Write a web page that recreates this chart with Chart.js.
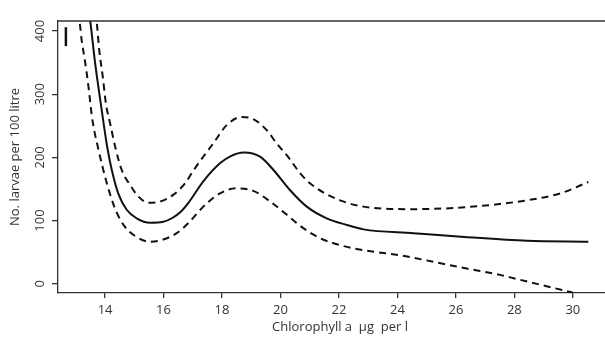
<!DOCTYPE html>
<html>
<head>
<meta charset="utf-8">
<script src="https://cdn.jsdelivr.net/npm/chart.js@4.4.1/dist/chart.umd.min.js"></script>
<style>
  html, body { margin: 0; padding: 0; background: #fff; }
  #wrap { width: 605px; height: 340px; }
</style>
</head>
<body>
<div id="wrap"><canvas id="larvae"></canvas></div>
<script>
// fitted curve (solid)
const fitX = [13.45, 13.49, 13.66, 13.86, 14.06, 14.23, 14.45, 14.74, 15.08, 15.54, 15.99, 16.3, 16.57, 16.85, 17.36, 17.93, 18.3, 18.75, 19.3, 19.76, 20.33, 20.9, 21.58, 22.27, 22.84, 24.55, 26.3, 28.43, 30.53];
const fitY = [430, 417, 349, 283, 220, 180, 143, 117, 103.5, 96.5, 98, 104, 113, 128, 162, 190.5, 202, 207.5, 201, 180, 148, 122, 103.5, 93, 86, 80, 74, 68, 66.5];

// upper band (dashed)
const upperX = [13.68, 13.72, 13.8, 13.92, 14.03, 14.19, 14.34, 14.57, 14.86, 15.14, 15.48, 15.88, 16.34, 16.74, 17.02, 17.36, 17.7, 18.16, 18.68, 19.13, 19.53, 19.87, 20.22, 20.78, 21.24, 22.04, 22.84, 24.55, 26.3, 28.43, 29.57, 30.53];
const upperY = [430, 412, 370, 328, 285, 250, 218, 180, 156, 138, 128, 130, 141, 159, 179, 201, 222, 251, 264, 259, 243, 222, 203, 169, 151, 132, 122, 118, 121, 132, 143, 161];

// lower band (dashed)
const lowerX = [13.08, 13.145, 13.2, 13.29, 13.37, 13.45, 13.54, 13.64, 13.74, 13.83, 14.06, 14.34, 14.68, 15.08, 15.54, 15.99, 16.45, 16.85, 17.36, 17.93, 18.5, 19.07, 19.65, 20.22, 20.78, 21.36, 22.04, 22.84, 24.09, 24.55, 26.37, 27.51, 27.86, 29.91, 30.0];
const lowerY = [430, 409, 385, 359, 334, 305, 268, 240, 219, 201, 159, 119, 90, 74, 66.5, 70, 80, 96, 122, 143, 151, 147, 130, 109, 88, 72, 61, 53, 45, 41, 24, 14, 10, -13, -14];

// small bar in the top left corner
const markX = [12.66, 12.66];
const markY = [376, 406];

const xTicks = [14, 16, 18, 20, 22, 24, 26, 28, 30];
const yTicks = [0, 100, 200, 300, 400];

const xTitle = 'Chlorophyll a  \u00b5g  per l';
const yTitle = 'No. larvae per 100 litre';

const ink = '#111';
const axisInk = '#333';

const toPoints = (xs, ys) => xs.map((x, i) => ({ x: x, y: ys[i] }));

// tick labels, titles and the top frame line
const axisText = {
  id: 'axisText',
  afterDraw(chart) {
    const { ctx, chartArea, scales } = chart;
    ctx.save();
    ctx.strokeStyle = axisInk;
    ctx.lineWidth = 1.3;
    ctx.beginPath();
    ctx.moveTo(chartArea.left, chartArea.top);
    ctx.lineTo(chartArea.right, chartArea.top);
    ctx.stroke();

    ctx.fillStyle = '#333';
    ctx.font = '13px "Open Sans"';
    ctx.textAlign = 'center';
    ctx.textBaseline = 'middle';
    xTicks.forEach(v => {
      ctx.fillText(String(v), scales.x.getPixelForValue(v), chartArea.bottom + 17);
    });
    yTicks.forEach(v => {
      ctx.save();
      ctx.translate(chartArea.left - 18, scales.y.getPixelForValue(v));
      ctx.rotate(-Math.PI / 2);
      ctx.fillText(String(v), 0, 0);
      ctx.restore();
    });

    ctx.fillText(xTitle, 340, chartArea.bottom + 34);
    ctx.save();
    ctx.translate(15, (chartArea.top + chartArea.bottom) / 2);
    ctx.rotate(-Math.PI / 2);
    ctx.fillText(yTitle, 0, 0);
    ctx.restore();
    ctx.restore();
  }
};

const lineSet = (xs, ys, dashed) => ({
  data: toPoints(xs, ys),
  showLine: true,
  borderColor: ink,
  borderWidth: 2,
  borderDash: dashed ? [7, 5] : [],
  pointRadius: 0,
  cubicInterpolationMode: 'monotone'
});

const ctx = document.getElementById('larvae').getContext('2d');
new Chart(ctx, {
  type: 'scatter',
  data: {
    datasets: [
      lineSet(fitX, fitY, false),
      lineSet(upperX, upperY, true),
      lineSet(lowerX, lowerY, true),
      {
        data: toPoints(markX, markY),
        showLine: true,
        borderColor: ink,
        borderWidth: 2.5,
        pointRadius: 0
      }
    ]
  },
  options: {
    responsive: true,
    maintainAspectRatio: false,
    animation: false,
    layout: { padding: { left: 52, top: 21, right: 0, bottom: 42 } },
    plugins: {
      legend: { display: false },
      tooltip: { enabled: false }
    },
    scales: {
      x: {
        type: 'linear',
        min: 12.39,
        max: 31.1,
        afterBuildTicks: scale => { scale.ticks = xTicks.map(v => ({ value: v })); },
        ticks: { display: false },
        grid: { drawOnChartArea: false, drawTicks: true, tickLength: 5, color: axisInk, lineWidth: 1.3 },
        border: { color: axisInk, width: 1.3 }
      },
      y: {
        min: -14.7,
        max: 415.8,
        afterBuildTicks: scale => { scale.ticks = yTicks.map(v => ({ value: v })); },
        ticks: { display: false },
        grid: { drawOnChartArea: false, drawTicks: true, tickLength: 6, color: axisInk, lineWidth: 1.3 },
        border: { color: axisInk, width: 1.3 }
      }
    }
  },
  plugins: [axisText]
});
</script>
</body>
</html>
